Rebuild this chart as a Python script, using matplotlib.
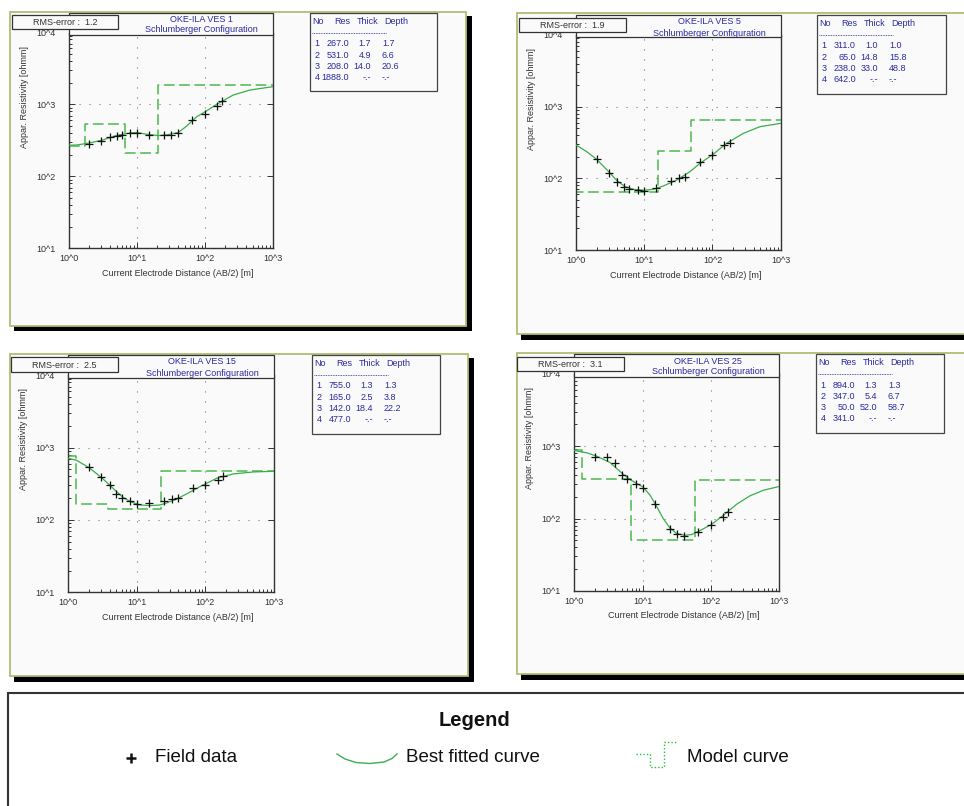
import matplotlib
matplotlib.use("Agg")
import matplotlib.pyplot as plt
from matplotlib.patches import Rectangle
from matplotlib.ticker import LogLocator, NullFormatter

plt.rcParams['font.family'] = ['Liberation Sans', 'DejaVu Sans']

W, H = 964, 806

# ---------------- data ----------------
ab2_field = [2, 3, 4, 5, 6, 8, 10, 15, 25, 32, 40, 65, 100, 150, 180]

ves_names = ["OKE-ILA VES 1", "OKE-ILA VES 5", "OKE-ILA VES 15", "OKE-ILA VES 25"]
rms_values = [1.2, 1.9, 2.5, 3.1]

field_ves1 = [286, 311, 354, 362, 381, 403, 407, 378, 373, 381, 403, 604, 748, 958, 1125]
field_ves5 = [184, 120, 90, 76.5, 71, 69, 66.6, 73, 92, 100, 104, 167, 209, 292, 315]
field_ves15 = [535, 389, 301, 231, 199, 183, 168, 174, 185, 195, 204, 280, 302, 353, 402]
field_ves25 = [697, 697, 589, 402, 350, 302, 268, 158, 72, 60.7, 57.5, 65.4, 81, 105, 124]

fit_x_ves1 = [1, 1.31, 2.01, 3.05, 4.94, 8.1, 9.93, 13.9, 20.6, 27.3, 40.5, 53.6, 75.1, 100.7, 147.6, 259, 455, 1000]
fit_y_ves1 = [271, 273, 292, 318, 369, 403, 407, 385, 369, 377, 407, 499, 673, 791, 1000, 1349, 1585, 1766]
fit_x_ves5 = [1, 1.43, 2.01, 3.01, 4.03, 5.23, 6.92, 9.7, 13.6, 19.05, 29.9, 46.9, 65.6, 99.5, 161, 283, 497, 1000]
fit_y_ves5 = [292, 236, 184, 124, 91.8, 76.6, 70.3, 68.1, 70.3, 78.2, 94.8, 124, 162, 212, 308, 424, 526, 585]
fit_x_ves15 = [1, 1.32, 2.0, 3.06, 4.05, 5.07, 6.34, 8.4, 11.1, 15.5, 21.7, 27.2, 38, 53.2, 83.2, 146, 255, 499, 1000]
fit_y_ves15 = [712, 668, 530, 385, 301, 246, 204, 176, 161, 158, 161, 172, 195, 229, 289, 377, 433, 461, 471]
fit_x_ves25 = [1, 1.52, 2.12, 3.33, 5.05, 6.54, 8.2, 10.1, 12.9, 16.1, 20.1, 25.2, 31.6, 41.9, 52.5, 66.4, 102, 153, 240, 375, 589, 1000]
fit_y_ves25 = [871, 809, 728, 594, 419, 346, 305, 274, 210, 147, 100, 74.3, 62.1, 58.9, 60.1, 66.8, 82.6, 111, 158, 206, 246, 277]

layer_res = [[267.0, 531.0, 208.0, 1888.0],
             [311.0, 65.0, 238.0, 642.0],
             [755.0, 165.0, 142.0, 477.0],
             [894.0, 347.0, 50.0, 341.0]]
layer_thick = [[1.7, 4.9, 14.0],
               [1.0, 14.8, 33.0],
               [1.3, 2.5, 18.4],
               [1.3, 5.4, 52.0]]
layer_depth = [[1.7, 6.6, 20.6],
               [1.0, 15.8, 48.8],
               [1.3, 3.8, 22.2],
               [1.3, 6.7, 58.7]]

xtick_vals = [1, 10, 100, 1000]
xtick_labels = ["10^0", "10^1", "10^2", "10^3"]
ytick_vals = [10, 100, 1000, 10000]
ytick_labels = ["10^1", "10^2", "10^3", "10^4"]
x_range = (1, 1000)
y_range = (10, 10000)

field_all = [field_ves1, field_ves5, field_ves15, field_ves25]
fit_all = [(fit_x_ves1, fit_y_ves1), (fit_x_ves5, fit_y_ves5),
           (fit_x_ves15, fit_y_ves15), (fit_x_ves25, fit_y_ves25)]

# ---------------- layout (pixels) ----------------
panels = [
    dict(frame=(10, 12, 466, 326), shadow=(14, 16, 472, 331),
         ax=(69, 32.5, 273, 248.3), head=(69, 13, 273, 35), title_x=201, title_y=(19, 30),
         rms=(12, 15, 118, 29), rms_tx=33, table=(310, 13, 437, 91),
         ylab=(25, 97), xlab=(178, 273)),
    dict(frame=(517, 13, 975, 334), shadow=(521, 17, 975, 340),
         ax=(576, 35, 780.7, 250), head=(576, 15, 781, 37), title_x=709, title_y=(22, 33),
         rms=(519, 18, 626, 32), rms_tx=540, table=(817, 15, 946, 94),
         ylab=(532, 99), xlab=(686, 276)),
    dict(frame=(10, 354, 468, 676), shadow=(14, 358, 474, 682),
         ax=(68.3, 375.3, 274, 592.3), head=(68, 355, 274, 378), title_x=202, title_y=(362, 373),
         rms=(11, 357, 118, 372), rms_tx=32, table=(312, 355, 440, 434),
         ylab=(24, 439), xlab=(178, 618)),
    dict(frame=(517, 353, 975, 674), shadow=(521, 357, 975, 680),
         ax=(574.3, 373.7, 779, 591), head=(574, 354, 779, 377), title_x=708, title_y=(361, 372),
         rms=(517, 357, 624, 371), rms_tx=538, table=(816, 354, 944, 433),
         ylab=(530, 438), xlab=(684, 616)),
]

NAVY = '#2a2aa0'
GREEN_FIT = '#3aae4a'
GREEN_MODEL = '#4cb84c'
OLIVE = '#b2bd74'
PANEL_BG = '#fafafa'
TXT = '#333333'
FS = 6.5

fig = plt.figure(figsize=(W / 100, H / 100), dpi=100)
fig.patch.set_facecolor('white')

def overlay(z):
    a = fig.add_axes([0, 0, 1, 1])
    a.set_xlim(0, W)
    a.set_ylim(H, 0)
    a.axis('off')
    a.set_zorder(z)
    a.patch.set_alpha(0)
    return a

bg = overlay(0)
fg = overlay(2)

def rect(a, box, **kw):
    x0, y0, x1, y1 = box
    a.add_patch(Rectangle((x0, y0), x1 - x0, y1 - y0, **kw))

for i, p in enumerate(panels):
    rect(bg, p['shadow'], facecolor='black', edgecolor='none')
    rect(bg, p['frame'], facecolor=PANEL_BG, edgecolor=OLIVE, lw=1.3)

    l, t, r, b = p['ax']
    ax = fig.add_axes([l / W, 1 - b / H, (r - l) / W, (b - t) / H])
    ax.set_zorder(1)
    ax.patch.set_alpha(0)
    ax.set_xscale('log')
    ax.set_yscale('log')
    ax.set_xlim(*x_range)
    ax.set_ylim(*y_range)
    ax.set_xticks(xtick_vals, labels=xtick_labels)
    ax.set_yticks(ytick_vals, labels=ytick_labels)
    ax.xaxis.set_minor_locator(LogLocator(base=10, subs=range(2, 10)))
    ax.yaxis.set_minor_locator(LogLocator(base=10, subs=range(2, 10)))
    ax.xaxis.set_minor_formatter(NullFormatter())
    ax.yaxis.set_minor_formatter(NullFormatter())
    ax.tick_params(which='both', direction='in', top=False, right=True, colors=TXT,
                   labelsize=FS, width=0.7)
    ax.tick_params(which='major', length=4)
    ax.tick_params(which='minor', length=2, right=False)
    ax.tick_params(axis='y', pad=10)
    ax.tick_params(axis='x', pad=4)
    for s in ['left', 'bottom', 'right']:
        ax.spines[s].set_color('#333333')
        ax.spines[s].set_linewidth(1.0)
    ax.spines['top'].set_visible(False)
    ax.grid(True, which='major', color='#777777', lw=0.8, linestyle=(0, (1, 8)))

    # model curve (step)
    edges = [x_range[0]] + layer_depth[i] + [x_range[1]]
    vals = layer_res[i] + [layer_res[i][-1]]
    ax.step(edges, vals, where='post', color=GREEN_MODEL, lw=1.1,
            linestyle=(0, (7, 3)), zorder=2)
    # fitted curve
    fx, fy = fit_all[i]
    ax.plot(fx, fy, color=GREEN_FIT, lw=0.9, zorder=3)
    # field data
    ax.plot(ab2_field, field_all[i], linestyle='none', marker='+', color='#111111',
            ms=6, mew=0.9, zorder=4)

    # labels
    fg.text(p['ylab'][0], p['ylab'][1], "Appar. Resistivity [ohmm]", rotation=90,
            ha='center', va='center', fontsize=FS, color=TXT)
    fg.text(p['xlab'][0], p['xlab'][1], "Current Electrode Distance (AB/2) [m]",
            ha='center', va='center', fontsize=FS, color=TXT)

    # header box and title
    rect(fg, p['head'], facecolor=PANEL_BG, edgecolor='#333333', lw=0.9)
    fg.text(p['title_x'], p['title_y'][0], ves_names[i], ha='center', va='center',
            fontsize=FS, color=NAVY)
    fg.text(p['title_x'], p['title_y'][1], "Schlumberger Configuration", ha='center',
            va='center', fontsize=FS, color=NAVY)

    # RMS box
    rect(fg, p['rms'], facecolor=PANEL_BG, edgecolor='#333333', lw=0.9)
    fg.text(p['rms_tx'], (p['rms'][1] + p['rms'][3]) / 2 + 0.5,
            f"RMS-error :  {rms_values[i]:.1f}", ha='left', va='center',
            fontsize=FS, color=TXT)

    # table
    tx0, ty0, tx1, ty1 = p['table']
    rect(fg, p['table'], facecolor=PANEL_BG, edgecolor='#444444', lw=0.9)
    for lab, off in zip(["No", "Res", "Thick", "Depth"], [2, 24, 47, 74]):
        fg.text(tx0 + off, ty0 + 8.5, lab, ha='left', va='center', fontsize=FS, color=NAVY)
    fg.plot([tx0 + 2, tx0 + 76], [ty0 + 20, ty0 + 20], color=NAVY, lw=0.6,
            linestyle=(0, (1, 1)))
    for k in range(4):
        yy = ty0 + 31 + k * 11.3
        fg.text(tx0 + 7, yy, str(k + 1), ha='center', va='center', fontsize=FS, color=NAVY)
        fg.text(tx0 + 39, yy, f"{layer_res[i][k]:.1f}", ha='right', va='center',
                fontsize=FS, color=NAVY)
        if k < 3:
            th = f"{layer_thick[i][k]:.1f}"
            dp = f"{layer_depth[i][k]:.1f}"
        else:
            th, dp = "-.-", "-.-"
        fg.text(tx0 + 61, yy, th, ha='right', va='center', fontsize=FS, color=NAVY)
        fg.text(tx0 + 72, yy, dp, ha='left', va='center', fontsize=FS, color=NAVY)

# ---------------- legend box ----------------
rect(fg, (8, 693, 980, 820), facecolor='white', edgecolor='#333333', lw=1.5)
fg.text(474, 720, "Legend", ha='center', va='center', fontsize=14.5,
        fontweight='bold', color='#111111')
fg.plot([131], [758], marker='+', color='#111111', ms=7, mew=1.8, linestyle='none')
fg.text(155, 757, "Field data", ha='left', va='center', fontsize=13.5, color='#111111')
fg.plot([337, 345, 356, 370, 384, 392, 397], [754, 759, 762.5, 763.5, 762, 758.5, 754],
        color=GREEN_FIT, lw=1.0)
fg.text(406, 757, "Best fitted curve", ha='left', va='center', fontsize=13.5, color='#111111')
fg.plot([636, 650, 650, 664, 664, 676], [754, 754, 767, 767, 742, 742],
        color='#22c040', lw=1.0, linestyle=(0, (1, 1.5)))
fg.text(687, 757, "Model curve", ha='left', va='center', fontsize=13.5, color='#111111')

fig.savefig('out.png', dpi=100, facecolor='white')
